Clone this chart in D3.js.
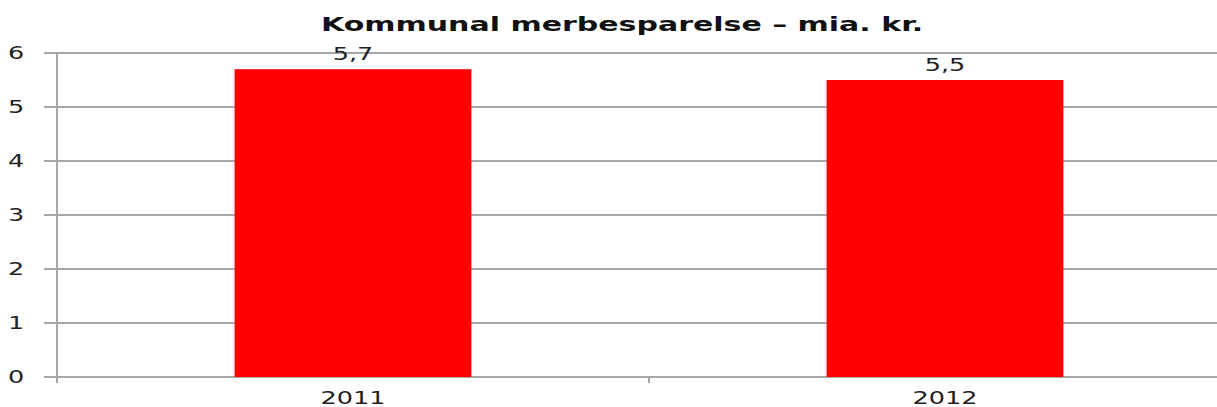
<!DOCTYPE html>
<html>
<head>
<meta charset="utf-8">
<script src="https://cdn.jsdelivr.net/npm/d3@7.9.0/dist/d3.min.js"></script>
<style>
  body { margin: 0; background: #fff; }
  svg { display: block; font-family: "DejaVu Sans", Verdana, sans-serif; }
</style>
</head>
<body>
<div id="chart"></div>
<script>
// data
const years = ['2011', '2012'];
const values = [5.7, 5.5];
const yTicks = [0, 1, 2, 3, 4, 5, 6];
const title = 'Kommunal merbesparelse \u2013 mia. kr.';

const width = 1217;
const height = 407;
const margin = { top: 53, right: -24, bottom: 30, left: 57 };
const stretch = 1.5; // the source image is squashed wider than tall

const svg = d3.select('#chart').append('svg')
  .attr('width', width)
  .attr('height', height);

const x = d3.scaleBand()
  .domain(years)
  .range([margin.left, width - margin.right])
  .padding(0);

const y = d3.scaleLinear()
  .domain([0, 6])
  .range([height - margin.bottom, margin.top]);

// place text with a horizontal stretch
function place(sel, fx, fy) {
  sel.attr('transform', (d, i) => `translate(${fx(d, i)},${fy(d, i)}) scale(${stretch},1)`);
}

// gridlines
svg.append('g')
  .selectAll('line')
  .data(yTicks)
  .join('line')
  .attr('x1', margin.left - 13)
  .attr('x2', width)
  .attr('y1', (d) => y(d))
  .attr('y2', (d) => y(d))
  .attr('stroke', '#a6a6a6')
  .attr('stroke-width', 2);

// y labels
svg.append('g')
  .selectAll('text')
  .data(yTicks)
  .join('text')
  .call(place, () => 16, (d) => y(d))
  .attr('dy', '0.35em')
  .attr('text-anchor', 'middle')
  .attr('font-size', 17)
  .attr('fill', '#222')
  .text((d) => d);

// bars
const barW = x.bandwidth() * 0.4;
svg.append('g')
  .selectAll('rect')
  .data(values)
  .join('rect')
  .attr('x', (d, i) => x(years[i]) + x.bandwidth() / 2 - barW / 2)
  .attr('width', barW)
  .attr('y', (d) => y(d))
  .attr('height', (d) => y(0) - y(d))
  .attr('fill', '#ff0000');

// y axis line
svg.append('line')
  .attr('x1', margin.left).attr('x2', margin.left)
  .attr('y1', y(6)).attr('y2', y(0) + 6)
  .attr('stroke', '#a6a6a6')
  .attr('stroke-width', 2);

// x category tick marks
svg.append('g')
  .selectAll('line')
  .data(years.slice(1))
  .join('line')
  .attr('x1', (d) => x(d)).attr('x2', (d) => x(d))
  .attr('y1', y(0)).attr('y2', y(0) + 6)
  .attr('stroke', '#a6a6a6')
  .attr('stroke-width', 2);

// x labels
svg.append('g')
  .selectAll('text')
  .data(years)
  .join('text')
  .call(place, (d) => x(d) + x.bandwidth() / 2, () => y(0) + 27)
  .attr('text-anchor', 'middle')
  .attr('font-size', 17)
  .attr('fill', '#222')
  .text((d) => d);

// value labels
svg.append('g')
  .selectAll('text')
  .data(values)
  .join('text')
  .call(place, (d, i) => x(years[i]) + x.bandwidth() / 2, (d) => y(d) - 9)
  .attr('text-anchor', 'middle')
  .attr('font-size', 17)
  .attr('fill', '#222')
  .text((d) => d3.format('.1f')(d).replace('.', ','));

// title
svg.append('text')
  .attr('transform', `translate(622,31) scale(${stretch},1)`)
  .attr('text-anchor', 'middle')
  .attr('font-size', 20)
  .attr('font-weight', 'bold')
  .attr('fill', '#111')
  .text(title);
</script>
</body>
</html>
